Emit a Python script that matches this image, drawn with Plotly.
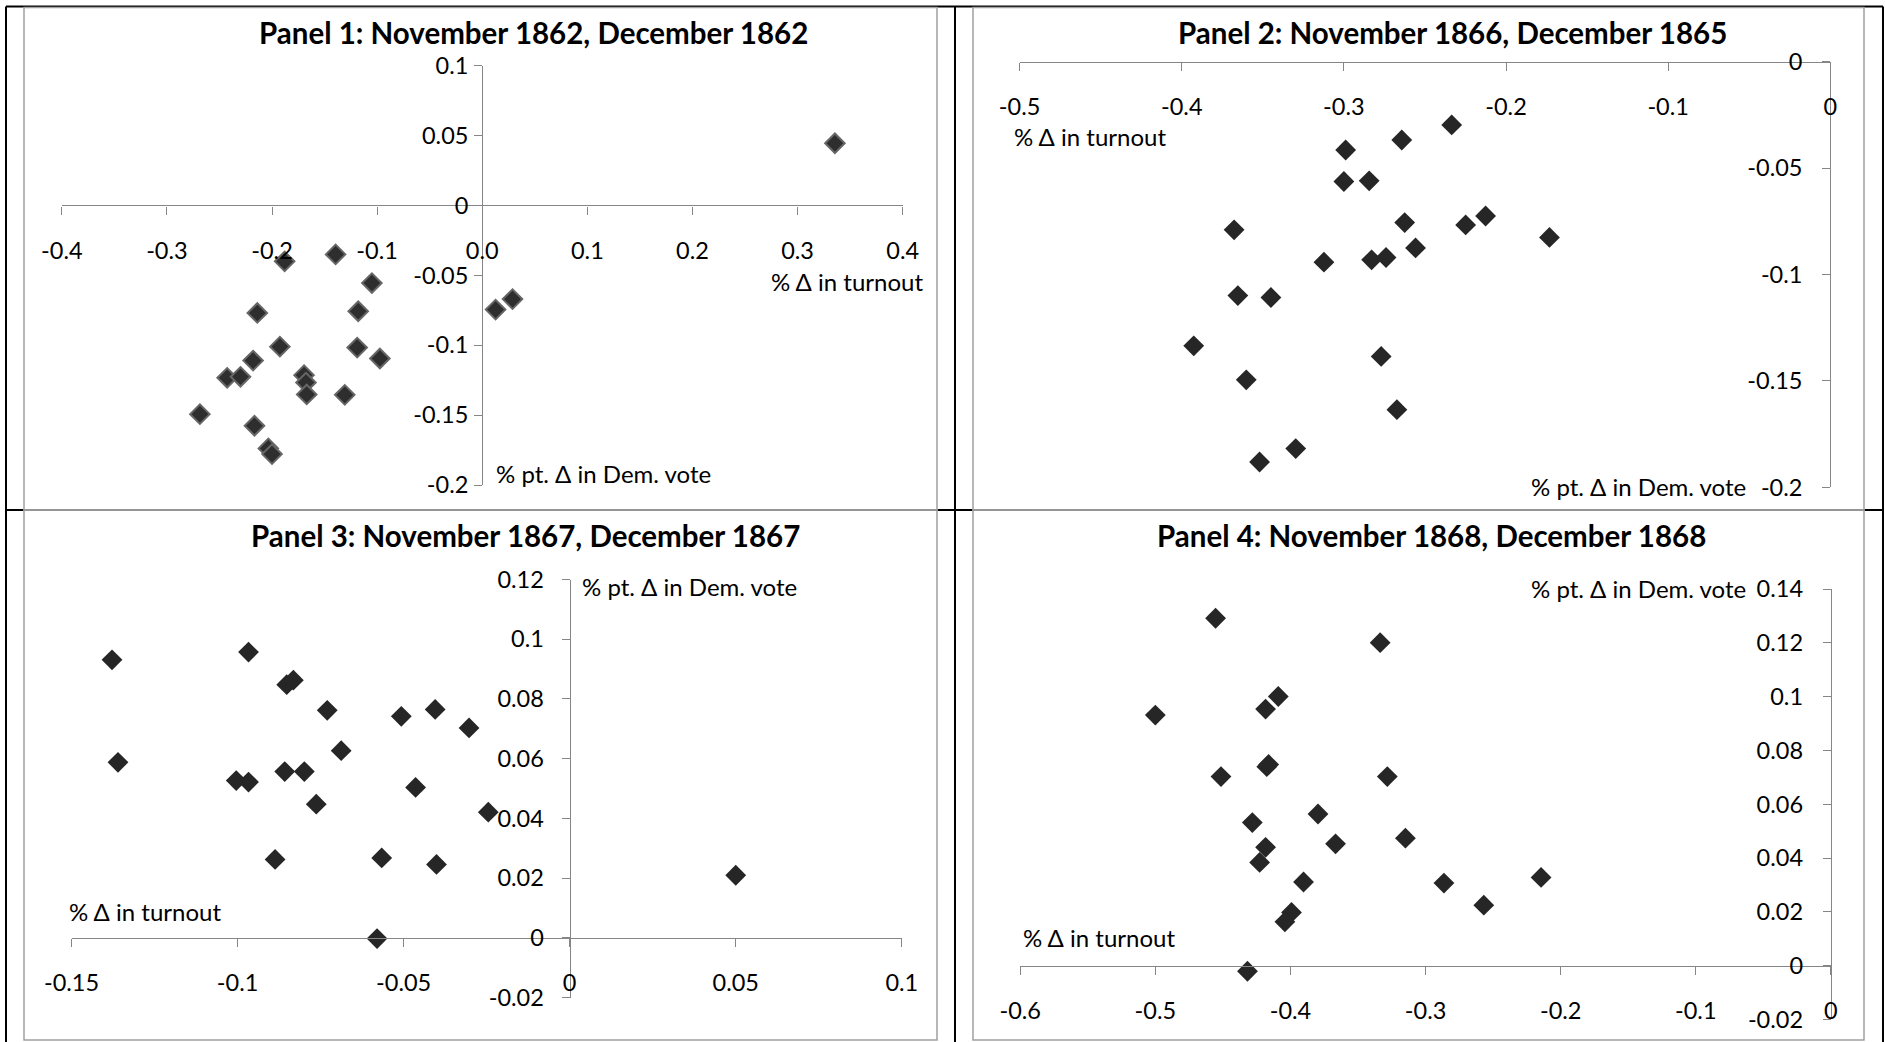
import plotly.graph_objects as go

# ---------------- data ----------------
p1_turnout = [0.3355, -0.188, -0.1395, -0.105, -0.214, -0.118, 0.0127, 0.0288, -0.1925, -0.119, -0.0974,
              -0.218, -0.2427, -0.230, -0.1695, -0.1677, -0.167, -0.1308, -0.2686, -0.2167, -0.2035, -0.200]
p1_demvote = [0.0445, -0.040, -0.035, -0.0555, -0.0769, -0.0757, -0.0745, -0.067, -0.101, -0.1017, -0.1095,
              -0.111, -0.1233, -0.1226, -0.1214, -0.1267, -0.1352, -0.1355, -0.1493, -0.1576, -0.1738, -0.1779]

p2_turnout = [-0.2335, -0.2643, -0.2989, -0.300, -0.2844, -0.3677, -0.2625, -0.2249, -0.2126, -0.1732, -0.3123,
              -0.2829, -0.274, -0.2558, -0.3654, -0.345, -0.3926, -0.277, -0.3602, -0.2673, -0.3297, -0.352]
p2_demvote = [-0.0297, -0.0368, -0.0415, -0.0563, -0.056, -0.079, -0.0756, -0.0767, -0.0725, -0.0826, -0.0942,
              -0.0931, -0.092, -0.0875, -0.1099, -0.1108, -0.1335, -0.1385, -0.1495, -0.1635, -0.1818, -0.1881]

p3_turnout = [-0.1378, -0.0967, -0.0852, -0.0832, -0.073, -0.0507, -0.0405, -0.0303, -0.0688, -0.136, -0.1004,
              -0.0967, -0.0858, -0.0799, -0.0464, -0.0763, -0.0245, -0.0887, -0.0566, -0.0401, 0.050, -0.058]
p3_demvote = [0.0931, 0.0957, 0.0848, 0.0863, 0.0762, 0.0742, 0.0765, 0.0703, 0.0627, 0.0588, 0.0527,
              0.0522, 0.0557, 0.0557, 0.0504, 0.0448, 0.0421, 0.0263, 0.0268, 0.0246, 0.021, -0.0002]

p4_turnout = [-0.4554, -0.3336, -0.409, -0.4184, -0.500, -0.4161, -0.4514, -0.3283, -0.3796, -0.4282, -0.3666,
              -0.3149, -0.4184, -0.4228, -0.3903, -0.2864, -0.2145, -0.2569, -0.3992, -0.4041, -0.4318, -0.4175]
p4_demvote = [0.1292, 0.1201, 0.1001, 0.0954, 0.0932, 0.0748, 0.0703, 0.0703, 0.0564, 0.0532, 0.0453,
              0.0474, 0.044, 0.0384, 0.0311, 0.0307, 0.0328, 0.0225, 0.0198, 0.0163, -0.0021, 0.0740]

titles = ["Panel 1: November 1862, December 1862",
          "Panel 2: November 1866, December 1865",
          "Panel 3: November 1867, December 1867",
          "Panel 4: November 1868, December 1868"]
x_axis_label = "% Δ in turnout"
y_axis_label = "% pt. Δ in Dem. vote"

p1_xticks = [-0.4, -0.3, -0.2, -0.1, 0.0, 0.1, 0.2, 0.3, 0.4]
p1_xlabels = ["-0.4", "-0.3", "-0.2", "-0.1", "0.0", "0.1", "0.2", "0.3", "0.4"]
p1_yticks = [-0.2, -0.15, -0.1, -0.05, 0.0, 0.05, 0.1]
p1_ylabels = ["-0.2", "-0.15", "-0.1", "-0.05", "0", "0.05", "0.1"]

p2_xticks = [-0.5, -0.4, -0.3, -0.2, -0.1, 0.0]
p2_xlabels = ["-0.5", "-0.4", "-0.3", "-0.2", "-0.1", "0"]
p2_yticks = [-0.2, -0.15, -0.1, -0.05, 0.0]
p2_ylabels = ["-0.2", "-0.15", "-0.1", "-0.05", "0"]

p3_xticks = [-0.15, -0.1, -0.05, 0.0, 0.05, 0.1]
p3_xlabels = ["-0.15", "-0.1", "-0.05", "0", "0.05", "0.1"]
p3_yticks = [-0.02, 0.0, 0.02, 0.04, 0.06, 0.08, 0.1, 0.12]
p3_ylabels = ["-0.02", "0", "0.02", "0.04", "0.06", "0.08", "0.1", "0.12"]

p4_xticks = [-0.6, -0.5, -0.4, -0.3, -0.2, -0.1, 0.0]
p4_xlabels = ["-0.6", "-0.5", "-0.4", "-0.3", "-0.2", "-0.1", "0"]
p4_yticks = [-0.02, 0.0, 0.02, 0.04, 0.06, 0.08, 0.1, 0.12, 0.14]
p4_ylabels = ["-0.02", "0", "0.02", "0.04", "0.06", "0.08", "0.1", "0.12", "0.14"]

# ---------------- layout helpers ----------------
W, H = 1885, 1042
FONT = "Lato"
AXIS_GRAY = "#868686"
TICK_SIZE = 23.5
CAPTION_SIZE = 24
TITLE_SIZE = 29.5


def fx(px):
    return px / W


def fy(py):
    return 1 - py / H


# plot areas in pixels: (left, right, top, bottom)
areas = [
    (61.8, 902.7, 65.7, 485.0),
    (1019.6, 1830.3, 61.7, 487.3),
    (71.5, 901.8, 579.5, 997.7),
    (1020.2, 1830.9, 589.2, 1019.4),
]
ylabel_standoff = [1, 15, 13, 15]

panels = [
    (p1_turnout, p1_demvote, p1_xticks, p1_xlabels, p1_yticks, p1_ylabels),
    (p2_turnout, p2_demvote, p2_xticks, p2_xlabels, p2_yticks, p2_ylabels),
    (p3_turnout, p3_demvote, p3_xticks, p3_xlabels, p3_yticks, p3_ylabels),
    (p4_turnout, p4_demvote, p4_xticks, p4_xlabels, p4_yticks, p4_ylabels),
]

fig = go.Figure()
layout = dict(
    width=W, height=H, autosize=False,
    margin=dict(l=0, r=0, t=0, b=0, pad=0, autoexpand=False),
    paper_bgcolor="white", plot_bgcolor="white",
    showlegend=False,
    font=dict(family=FONT, size=TICK_SIZE, color="#000000"),
)

for i, (xs, ys, xt, xl, yt, yl) in enumerate(panels):
    n = i + 1
    xa = "x" if n == 1 else f"x{n}"
    ya = "y" if n == 1 else f"y{n}"
    l, r, t, b = areas[i]
    xdom = [fx(l), fx(r)]
    ydom = [fy(b), fy(t)]
    xr = [min(xt), max(xt)]
    yr = [min(yt), max(yt)]
    # axis crossing at data zero
    xpos_of_yaxis = xdom[0] + (0 - xr[0]) / (xr[1] - xr[0]) * (xdom[1] - xdom[0])
    ypos_of_xaxis = ydom[0] + (0 - yr[0]) / (yr[1] - yr[0]) * (ydom[1] - ydom[0])

    if n == 1:
        marker = dict(symbol="diamond", size=15, color="#2e2e2e",
                      line=dict(color="#666666", width=2))
    else:
        marker = dict(symbol="diamond", size=16, color="#262626",
                      line=dict(color="#262626", width=0))
    fig.add_trace(go.Scatter(x=xs, y=ys, mode="markers", marker=marker,
                             xaxis=xa, yaxis=ya, cliponaxis=False, hoverinfo="x+y"))

    common = dict(showgrid=False, zeroline=False, showline=True, linecolor=AXIS_GRAY,
                  linewidth=1.3, ticks="outside", ticklen=8, tickcolor=AXIS_GRAY, tickwidth=1.3,
                  automargin=False,
                  tickfont=dict(family=FONT, size=TICK_SIZE, color="#000000"), fixedrange=True)
    layout["xaxis" if n == 1 else f"xaxis{n}"] = dict(
        domain=xdom, range=xr, anchor="free", position=ypos_of_xaxis, side="bottom",
        tickmode="array", tickvals=xt, ticktext=xl, ticklabelstandoff=16, **common)
    layout["yaxis" if n == 1 else f"yaxis{n}"] = dict(
        domain=ydom, range=yr, anchor="free", position=xpos_of_yaxis, side="left",
        tickmode="array", tickvals=yt, ticktext=yl, ticklabelstandoff=ylabel_standoff[i], **common)

# titles and axis captions (pixel positions)
title_pos = [(533, 32.5), (1452, 32.5), (525, 535), (1431, 535)]
ann = []
for (tx, ty), txt in zip(title_pos, titles):
    ann.append(dict(text=f"<b>{txt}</b>", x=fx(tx), y=fy(ty), xref="paper", yref="paper",
                    xanchor="center", yanchor="middle", showarrow=False,
                    font=dict(family=FONT, size=TITLE_SIZE, color="#000000")))

captions = [
    (x_axis_label, 925, 282, "right"),
    (y_axis_label, 494, 473, "left"),
    (x_axis_label, 1012, 137, "left"),
    (y_axis_label, 1748, 486, "right"),
    (y_axis_label, 580, 586, "left"),
    (x_axis_label, 67, 911, "left"),
    (y_axis_label, 1748, 588, "right"),
    (x_axis_label, 1021, 937, "left"),
]
for txt, cx, cy, anchor in captions:
    ann.append(dict(text=txt, x=fx(cx), y=fy(cy), xref="paper", yref="paper",
                    xanchor=anchor, yanchor="middle", showarrow=False,
                    font=dict(family=FONT, size=CAPTION_SIZE, color="#000000")))
layout["annotations"] = ann

# table lines (black) and chart borders (gray)
shapes = []
BLACK = dict(color="#000000", width=2)
for (x0, y0, x1, y1) in [(6, 6.5, 1883, 6.5), (6, 510, 1883, 510), (6, 6.5, 6, 1042),
                         (955, 6.5, 955, 1042), (1883, 6.5, 1883, 1042)]:
    shapes.append(dict(type="line", xref="paper", yref="paper", x0=fx(x0), y0=fy(y0),
                       x1=fx(x1), y1=fy(y1), line=BLACK))
for (x0, y0, x1, y1) in [(24, 7.5, 937, 510), (973, 7.5, 1864, 510),
                         (24, 510, 937, 1040), (973, 510, 1864, 1040)]:
    shapes.append(dict(type="rect", xref="paper", yref="paper", x0=fx(x0), y0=fy(y0),
                       x1=fx(x1), y1=fy(y1), line=dict(color="#a0a0a0", width=1.5)))
layout["shapes"] = shapes

fig.update_layout(**layout)
fig.write_html("out.html", post_script="document.body.style.margin='0';document.body.style.overflow='hidden';",
               config={"displayModeBar": False})
